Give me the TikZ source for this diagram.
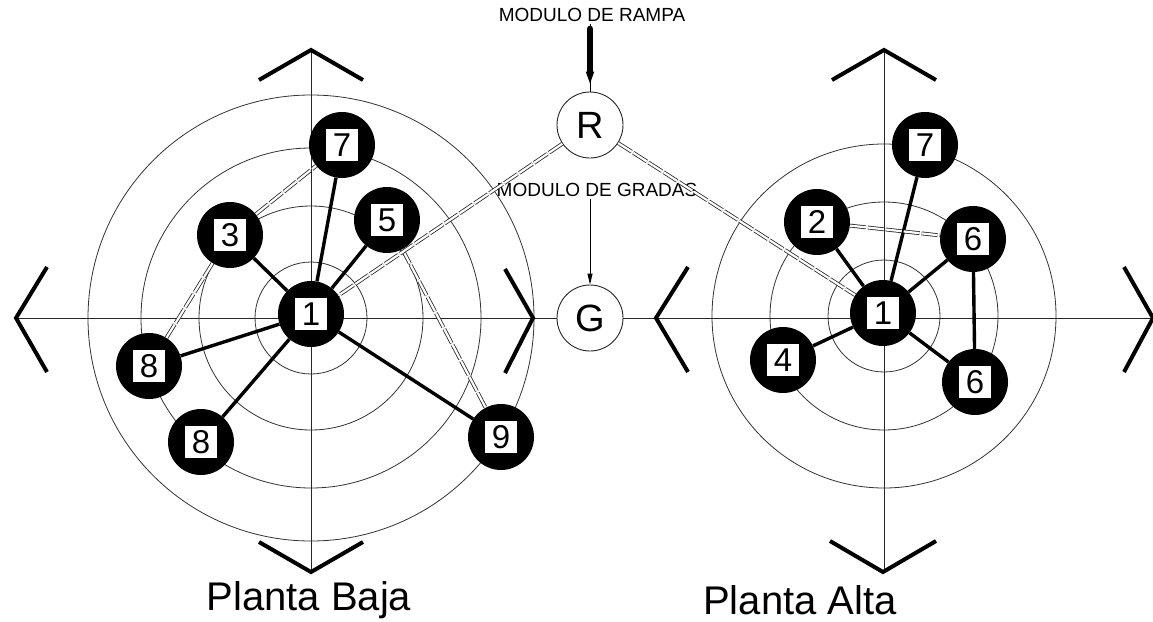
\documentclass[tikz,border=0pt]{standalone}
\usepackage{fontspec}
\setmainfont{Liberation Sans}
\usetikzlibrary{arrows.meta}
\tikzset{
  ring/.style={draw=black!80, line width=0.8pt},
  axis/.style={draw=black!85, line width=0.9pt},
  chev/.style={draw=black, line width=4pt, line cap=butt, line join=miter},
  bn/.style={circle, fill=black, minimum size=66pt, inner sep=0pt},
  numbox/.style={fill=white, minimum size=32pt, inner sep=0pt, font=\fontsize{33}{33}\selectfont},
  wc/.style={circle, draw=black!85, fill=white, line width=0.9pt, minimum size=66pt, inner sep=0pt, font=\fontsize{38}{38}\selectfont},
  link/.style={draw=black, line width=3.4pt},
  dbl/.style={draw=black!85, double=white, double distance=2.2pt, line width=0.8pt, dash pattern=on 16pt off 2pt},
  modtxt/.style={font=\fontsize{19}{19}\selectfont, inner sep=2pt},
  title/.style={font=\fontsize{40}{40}\selectfont, inner sep=0pt},
}
\newcommand\bnode[3]{\node[bn] (#1) at (#2) {}; \node[numbox] (#1t) at (#1) {#3};}
\begin{document}
\begin{tikzpicture}[x=1pt,y=-1pt]
\useasboundingbox (0,0) rectangle (1153,621);
\fill[white] (0,0) rectangle (1153,621);

% rings
\foreach \r in {56,112,170,223} \draw[ring] (311,318) circle[radius=\r pt];
\foreach \r in {56,114,172} \draw[ring] (884,316) circle[radius=\r pt];

% centre modules
\node[wc] (R) at (590,125) {R};
\node[wc] (G) at (590,318) {G};
\node[modtxt] (ramp) at (592,15) {MODULO DE RAMPA};
\node[modtxt] (grad) at (597,190) {MODULO DE GRADAS};

% axes
\coordinate (LL) at (16,318);
\coordinate (RR) at (1153,318);
\draw[axis] (LL) -- (G) -- (RR);
\draw[axis] (311,50) -- (311,572);
\draw[axis] (884,50) -- (884,572);

% chevrons left diagram
\draw[chev] (47,267) -- (16,318) -- (47,372);
\draw[chev] (505,269) -- (533,318) -- (505,373);
\draw[chev] (259,80) -- (311,50) -- (363,80);
\draw[chev] (259,542) -- (311,572) -- (363,542);
% chevrons right diagram
\draw[chev] (688,267) -- (656,318) -- (688,372);
\draw[chev] (1124,267) -- (1153,318) -- (1124,372);
\draw[chev] (832,80) -- (884,50) -- (936,80);
\draw[chev] (830,541) -- (883,572) -- (936,541);

% nodes left
\bnode{a1}{311,314}{1}
\bnode{a7}{342,145}{7}
\bnode{a5}{387,220}{5}
\bnode{a3}{230,235}{3}
\bnode{a8}{149,366}{8}
\bnode{b8}{201,442}{8}
\bnode{a9}{501,437}{9}
% nodes right
\bnode{c1}{883,313}{1}
\bnode{c7}{925,145}{7}
\bnode{c2}{817,222}{2}
\bnode{c6}{973,239}{6}
\bnode{d6}{975,382}{6}
\bnode{c4}{783,360}{4}

% thick links
\draw[link] (a1) -- (a7);
\draw[link] (a1) -- (a3);
\draw[link] (a1) -- (a5);
\draw[link] (a1) -- (a8);
\draw[link] (a1) -- (b8);
\draw[link] (a1) -- (a9);
\draw[link] (c1) -- (c7);
\draw[link] (c1) -- (c2);
\draw[link] (c1) -- (c6);
\draw[link] (c1) -- (c4);
\draw[link] (c1) -- (d6);
\draw[link] (c6) -- (d6);

% double links
\draw[dbl] (a3) -- (a7);
\draw[dbl] (a3) -- (a8);
\draw[dbl] (a5) -- (a9);
\draw[dbl] (R) -- (a1);
\draw[dbl] (R) -- (c1);
\draw[dbl] (c2) -- (c6);

% arrows into R and G
\draw[line width=0.9pt] (ramp.south -| R.north) -- (R.north);
\draw[line width=6.5pt, line cap=round, shorten <=5pt, shorten >=3pt, -{Triangle[length=17pt,width=6.5pt]}] (ramp.south -| R.north) -- (R.north);
\draw[line width=0.9pt, -{Triangle[length=11pt,width=5pt]}] (grad.south -| G.north) -- (G.north);

% titles
\node[title] (pb) at (309,600) {Planta Baja};
\node[title] (pa) at (800,600) {Planta Alta};
\end{tikzpicture}
\end{document}
